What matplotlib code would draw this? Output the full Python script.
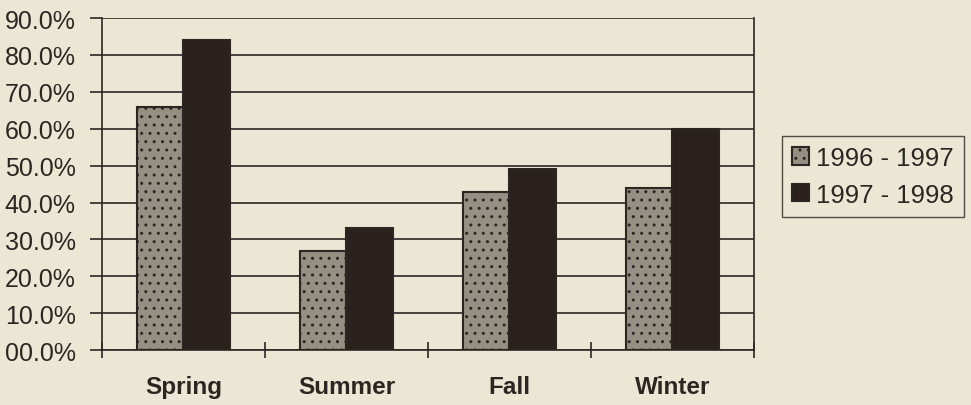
import numpy as np
import matplotlib.pyplot as plt

seasons = ['Spring', 'Summer', 'Fall', 'Winter']
labels = ['1996 - 1997', '1997 - 1998']
v9697 = [66, 27, 43, 44]
v9798 = [84, 33, 49, 60]
yticks = [0, 10, 20, 30, 40, 50, 60, 70, 80, 90]
ylabels = ['00.0%', '10.0%', '20.0%', '30.0%', '40.0%', '50.0%',
           '60.0%', '70.0%', '80.0%', '90.0%']

plt.rcParams['font.family'] = ['Liberation Sans', 'DejaVu Sans']
plt.rcParams['hatch.color'] = '#6a655b'
plt.rcParams['hatch.linewidth'] = 1.0
bg = '#ebe7d4'
ink = '#2b2622'

fig = plt.figure(figsize=(9.71, 4.06), dpi=100, facecolor=bg)
ax = fig.add_axes([0.105, 0.135, 0.6715, 0.818], facecolor=bg)

x = np.arange(len(seasons))
w = 0.286
ax.bar(x - w / 2, v9697, w, color='#959084', edgecolor=ink, linewidth=1.5,
       hatch='..', label=labels[0], zorder=3)
ax.bar(x + w / 2, v9798, w, color='#2a211d', edgecolor=ink, linewidth=1.5,
       label=labels[1], zorder=3)

ax.set_xlim(-0.5, 3.5)
ax.set_ylim(0, 90)
ax.set_yticks(yticks)
ax.set_yticklabels(ylabels, fontsize=18, color=ink)
ax.yaxis.grid(True, color=ink, linewidth=1.2, zorder=0)
ax.set_xticks(x)
ax.set_xticklabels(seasons, fontsize=17.5, fontweight='bold', color=ink)
ax.set_xticks(np.arange(-0.5, 4, 1), minor=True)
ax.tick_params(axis='x', which='major', length=0, pad=18)
ax.tick_params(axis='x', which='minor', length=12, direction='inout',
               color=ink, width=1.2)
ax.tick_params(axis='y', length=9, color=ink, width=1.2, pad=10)
for s in ['left', 'right', 'bottom']:
    ax.spines[s].set_color(ink)
    ax.spines[s].set_linewidth(1.2)
ax.spines['top'].set_visible(False)

leg = fig.legend(loc='upper left', bbox_to_anchor=(0.805, 0.663),
                 borderaxespad=0, fontsize=18.5, frameon=True, fancybox=False,
                 handlelength=0.65, handleheight=0.65, handletextpad=0.3,
                 borderpad=0.4, labelspacing=0.5, labelcolor=ink)
leg.get_frame().set_edgecolor(ink)
leg.get_frame().set_facecolor(bg)
leg.get_frame().set_linewidth(1.0)

fig.savefig('out.png', dpi=100, facecolor=bg)
